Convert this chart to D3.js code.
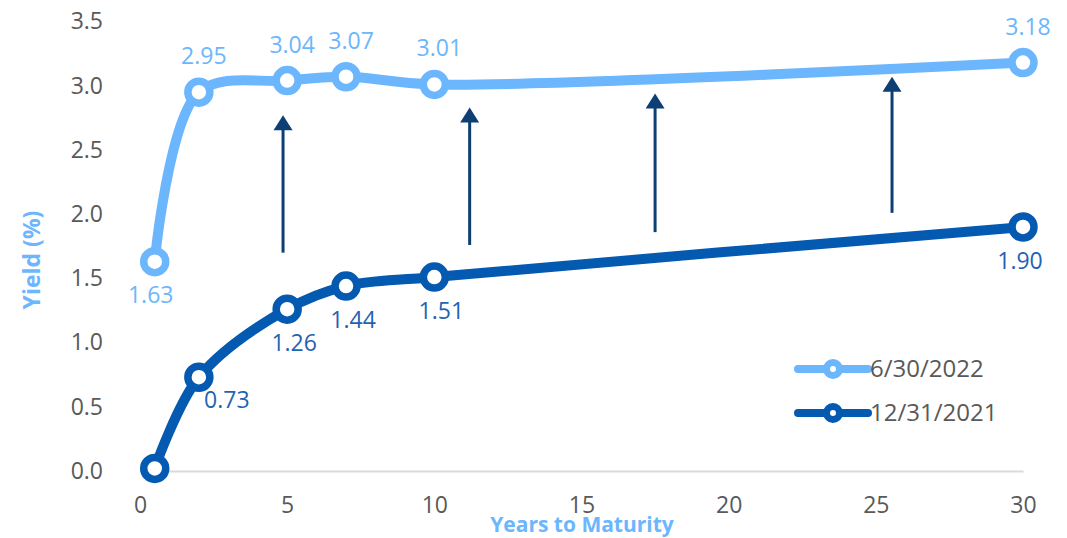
<!DOCTYPE html>
<html>
<head>
<meta charset="utf-8">
<script src="https://cdn.jsdelivr.net/npm/d3@7"></script>
<style>
  html, body { margin: 0; padding: 0; background: #fff; }
  svg { display: block; font-family: "Open Sans", "Noto Sans", sans-serif; }
</style>
</head>
<body>
<svg id="chart" width="1067" height="538"></svg>
<script>
// ---- data ----
const maturities = [0.5, 2, 5, 7, 10, 30];
const yields2022 = [1.63, 2.95, 3.04, 3.07, 3.01, 3.18];
const yields2021 = [0.02, 0.73, 1.26, 1.44, 1.51, 1.90];
const seriesNames = ["6/30/2022", "12/31/2021"];
const labels2022 = ["1.63", "2.95", "3.04", "3.07", "3.01", "3.18"];
const labels2021 = ["", "0.73", "1.26", "1.44", "1.51", "1.90"];
const xTicks = [0, 5, 10, 15, 20, 25, 30];
const yTicks = [0, 0.5, 1, 1.5, 2, 2.5, 3, 3.5];
const arrowX = [4.86, 11.2, 17.5, 25.55];
const arrowFrom = [1.70, 1.76, 1.86, 2.01];
const arrowTo = [2.77, 2.83, 2.94, 3.07];

// ---- style ----
const LIGHT = "#6cb6fd";
const DARK = "#0459b0";
const DARK_LABEL = "#1f63b3";
const NAVY = "#0d3f74";
const GREY = "#595959";

const svg = d3.select("#chart");
const x = d3.scaleLinear().domain([0, 30]).range([140, 1023]);
const y = d3.scaleLinear().domain([0, 3.5]).range([471, 21.5]);

// axes
const yAxis = svg.append("g").attr("transform", `translate(140,0)`)
  .call(d3.axisLeft(y).tickValues(yTicks).tickFormat(d3.format(".1f")).tickSize(0).tickPadding(37));
yAxis.select(".domain").remove();
yAxis.selectAll("text").attr("fill", GREY).style("font-size", "23px").style("font-family", "'Open Sans', sans-serif");

const xAxis = svg.append("g").attr("transform", `translate(0,471)`)
  .call(d3.axisBottom(x).tickValues(xTicks).tickFormat(d3.format("d")).tickSize(0).tickPadding(26));
xAxis.select(".domain").attr("stroke", "#d9d9d9").attr("stroke-width", 2);
xAxis.selectAll("text").attr("fill", GREY).style("font-size", "23px").style("font-family", "'Open Sans', sans-serif");

// titles
svg.append("text").attr("transform", "translate(40,260) rotate(-90)")
  .attr("text-anchor", "middle").attr("fill", LIGHT)
  .style("font-weight", "bold").style("font-size", "23px").text("Yield (%)");
svg.append("text").attr("x", 582).attr("y", 532)
  .attr("text-anchor", "middle").attr("fill", LIGHT)
  .style("font-weight", "bold").style("font-size", "21px").text("Years to Maturity");

// arrows
svg.selectAll(".arrow").data(arrowX).join("g").attr("class", "arrow").each(function(d, i) {
  const g = d3.select(this);
  const ax = x(d), y0 = y(arrowFrom[i]), y1 = y(arrowTo[i]);
  g.append("line").attr("x1", ax).attr("x2", ax).attr("y1", y0).attr("y2", y1 + 12)
    .attr("stroke", NAVY).attr("stroke-width", 3);
  g.append("path").attr("d", `M${ax},${y1} L${ax - 9.5},${y1 + 15} L${ax + 9.5},${y1 + 15} Z`)
    .attr("fill", NAVY);
});

// lines
const line = d3.line().x(d => x(d[0])).y(d => y(d[1])).curve(d3.curveCatmullRom.alpha(0.5));
const s2022 = maturities.map((m, i) => [m, yields2022[i]]);
const s2021 = maturities.map((m, i) => [m, yields2021[i]]);

function drawSeries(data, color) {
  svg.append("path").datum(data).attr("d", line).attr("fill", "none")
    .attr("stroke", color).attr("stroke-width", 10).attr("stroke-linejoin", "round");
  svg.append("g").selectAll("circle").data(data).join("circle")
    .attr("cx", d => x(d[0])).attr("cy", d => y(d[1])).attr("r", 11)
    .attr("fill", "#fff").attr("stroke", color).attr("stroke-width", 7.5);
}
drawSeries(s2021, DARK);
drawSeries(s2022, LIGHT);

// data labels
svg.append("g").selectAll("text").data(s2022).join("text")
  .attr("x", (d, i) => x(d[0]) + (i === 0 ? -4 : 5))
  .attr("y", (d, i) => y(d[1]) + (i === 0 ? 33 : -36))
  .attr("dy", "0.35em").attr("text-anchor", "middle").attr("fill", LIGHT)
  .style("font-size", "23px").text((d, i) => labels2022[i]);
svg.append("g").selectAll("text").data(s2021).join("text")
  .attr("x", (d, i) => x(d[0]) + (i === 1 ? 28 : (i === 5 ? -3 : 7)))
  .attr("y", (d, i) => y(d[1]) + (i === 1 ? 23 : 34))
  .attr("dy", "0.35em").attr("text-anchor", "middle").attr("fill", DARK_LABEL)
  .style("font-size", "23px").text((d, i) => labels2021[i]);

// legend
const legendColors = [LIGHT, DARK];
const legend = svg.append("g").selectAll("g").data(seriesNames).join("g")
  .attr("transform", (d, i) => `translate(798,${369 + i * 44})`);
legend.append("line").attr("x1", 0).attr("x2", 70).attr("y1", 0).attr("y2", 0)
  .attr("stroke", (d, i) => legendColors[i]).attr("stroke-width", 8).attr("stroke-linecap", "round");
legend.append("circle").attr("cx", 35).attr("cy", 0).attr("r", 6.5)
  .attr("fill", "#fff").attr("stroke", (d, i) => legendColors[i]).attr("stroke-width", 7);
legend.append("text").attr("x", 72).attr("y", 0).attr("dy", "0.35em")
  .attr("fill", GREY).style("font-size", "24px").text(d => d);
</script>
</body>
</html>
